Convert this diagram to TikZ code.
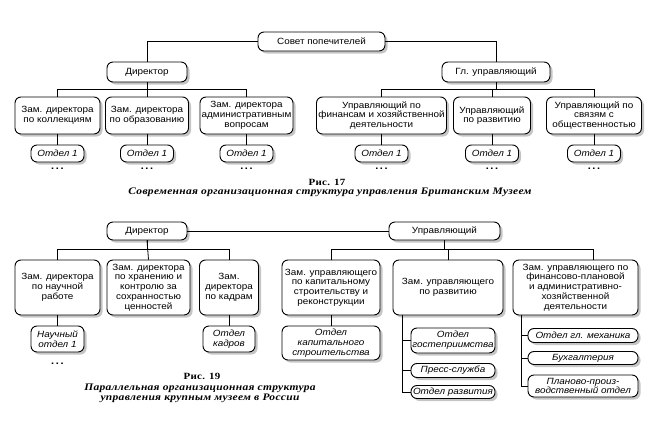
\documentclass[tikz,border=0pt]{standalone}
\usepackage{fontspec}
\setmainfont{Liberation Sans}[FakeStretch=1.1]
\newfontfamily\capfont{Liberation Serif}[FakeStretch=1.15,LetterSpace=3]
\usetikzlibrary{shadows}
\begin{document}
\begin{tikzpicture}[x=1pt,y=-1pt,
  font=\fontsize{9}{9.8}\selectfont,
  box/.style={draw,line width=0.9pt,rounded corners=6pt,fill=white,align=center,inner sep=1pt,
    drop shadow={shadow xshift=2.5pt,shadow yshift=-2.5pt,fill=black!45}},
  pill/.style={box,font=\fontsize{9}{9.8}\selectfont\itshape},
  link/.style={line width=0.8pt},
  capnum/.style={font=\capfont\fontsize{9.5}{10}\selectfont\bfseries},
  captext/.style={font=\capfont\fontsize{10}{10}\selectfont\bfseries\itshape,align=center}]
\useasboundingbox (0,0) rectangle (659,431);
\node[box,minimum width=127pt,minimum height=19pt] (sovet) at (321.5,41.5) {Совет попечителей};
\node[box,minimum width=80pt,minimum height=20pt] (dir1) at (147,72) {Директор};
\node[box,minimum width=108pt,minimum height=20pt] (glu) at (496,72) {Гл. управляющий};
\node[box,minimum width=85pt,minimum height=37pt] (zk1) at (57.5,115.5) {Зам. директора\\по коллекциям};
\node[box,minimum width=83pt,minimum height=37pt] (zo) at (147,115.5) {Зам. директора\\по образованию};
\node[box,minimum width=93pt,minimum height=37pt] (za) at (246.5,115.5) {Зам. директора\\административным\\вопросам};
\node[box,minimum width=130pt,minimum height=37pt] (uf) at (381.5,115.5) {Управляющий по\\финансам и хозяйственной\\деятельности};
\node[box,minimum width=77pt,minimum height=37pt] (ur) at (492,115.5) {Управляющий\\по развитию};
\node[box,minimum width=95pt,minimum height=37pt] (us) at (594,115.5) {Управляющий по\\связям с\\общественностью};
\foreach \x/\n in {57.5/o1,147/o2,246.5/o3,381.5/o4,492/o5,594/o6}
  \node[pill,minimum width=53pt,minimum height=17pt] (\n) at (\x,153.5) {Отдел 1};
\foreach \x [count=\i] in {57.5,147,246.5,381.5,492,594}
  \node[font=\bfseries] (dt\i) at (\x,169) {.\,.\,.};
\draw[link] (sovet.west) -| (dir1.north);
\draw[link] (sovet.east) -| (glu.north);
\draw[link] (dir1.south) -- ++(0,7) -| (zk1.north);
\draw[link] (dir1.south) -- ++(0,7) -| (za.north);
\draw[link] (dir1.south) -- (zo.north);
\draw[link] (glu.south) -- ++(0,7) -| (uf.north);
\draw[link] (glu.south) -- ++(0,7) -| (us.north);
\draw[link] (glu.south) -- ++(0,7) -| (ur.north);
\draw[link] (zk1.south) -- (o1.north);
\draw[link] (zo.south) -- (o2.north);
\draw[link] (za.south) -- (o3.north);
\draw[link] (uf.south) -- (o4.north);
\draw[link] (ur.south) -- (o5.north);
\draw[link] (us.south) -- (o6.north);
\node[capnum] (r17) at (327,182) {Рис. 17};
\node[captext] (c17) at (330,192) {Современная организационная структура управления Британским Музеем};
\node[box,minimum width=80pt,minimum height=18pt] (dir2) at (147,231) {Директор};
\node[box,minimum width=111pt,minimum height=18pt] (upr) at (444.5,231) {Управляющий};
\node[box,minimum width=85pt,minimum height=55pt] (nz1) at (57.5,287.5) {Зам. директора\\по научной\\работе};
\node[box,minimum width=83pt,minimum height=55pt] (nz2) at (148.5,287.5) {Зам. директора\\по хранению и\\контролю за\\сохранностью\\ценностей};
\node[box,minimum width=59pt,minimum height=55pt] (nz3) at (229,287.5) {Зам.\\директора\\по кадрам};
\node[box,minimum width=98pt,minimum height=55pt] (zk) at (331,287.5) {Зам. управляющего\\по капитальному\\строительству и\\реконструкции};
\node[box,minimum width=110pt,minimum height=55pt] (zr) at (448,287.5) {Зам. управляющего\\по развитию};
\node[box,minimum width=125pt,minimum height=55pt] (zf) at (575.5,287.5) {Зам. управляющего по\\финансово-плановой\\и административно-\\хозяйственной\\деятельности};
\node[pill,minimum width=53pt,minimum height=26pt] (nauch) at (57.5,339) {Научный\\отдел 1};
\node[font=\bfseries] (dt7) at (57.5,364) {.\,.\,.};
\node[pill,minimum width=52pt,minimum height=26pt] (kadr) at (229,339) {Отдел\\кадров};
\node[pill,minimum width=98pt,minimum height=34pt] (kap) at (331,343) {Отдел\\капитального\\строительства};
\node[pill,minimum width=84pt,minimum height=25pt] (gost) at (453,340.5) {Отдел\\гостеприимства};
\node[pill,minimum width=84pt,minimum height=14pt] (press) at (453,370.5) {Пресс-служба};
\node[pill,minimum width=84pt,minimum height=13pt] (razv) at (453,392) {Отдел развития};
\node[pill,minimum width=110pt,minimum height=14pt] (mech) at (583,335.5) {Отдел гл. механика};
\node[pill,minimum width=110pt,minimum height=13pt] (buh) at (583,358) {Бухгалтерия};
\node[pill,minimum width=110pt,minimum height=22pt] (plan) at (583,386) {Планово-произ-\\водственный отдел};
\draw[link] (dir2.east) -- (upr.west);
\draw[link] (dir2.south) -- ++(0,9) -| (nz1.north);
\draw[link] (dir2.south) -- ++(0,9) -| (nz3.north);
\draw[link] (dir2.south) -- (nz2.north);
\draw[link] (upr.south) -- ++(0,9) -| (zk.north);
\draw[link] (upr.south) -- ++(0,9) -| ([xshift=18pt]zf.north);
\draw[link] (upr.south) -- ++(0,9) -| (zr.north);
\draw[link] (nz1.south) -- (nauch.north);
\draw[link] (nz3.south) -- (kadr.north);
\draw[link] (zk.south) -- (kap.north);
\draw[link] ([xshift=10pt]zr.south west) |- (gost.west);
\draw[link] ([xshift=10pt]zr.south west) |- (press.west);
\draw[link] ([xshift=10pt]zr.south west) |- (razv.west);
\draw[link] ([xshift=9pt]zf.south west) |- (mech.west);
\draw[link] ([xshift=9pt]zf.south west) |- (buh.west);
\draw[link] ([xshift=9pt]zf.south west) |- (plan.west);
\node[capnum] (r19) at (202,376) {Рис. 19};
\node[captext] (c19) at (200,393) {Параллельная организационная структура\\управления крупным музеем в России};
\end{tikzpicture}
\end{document}
